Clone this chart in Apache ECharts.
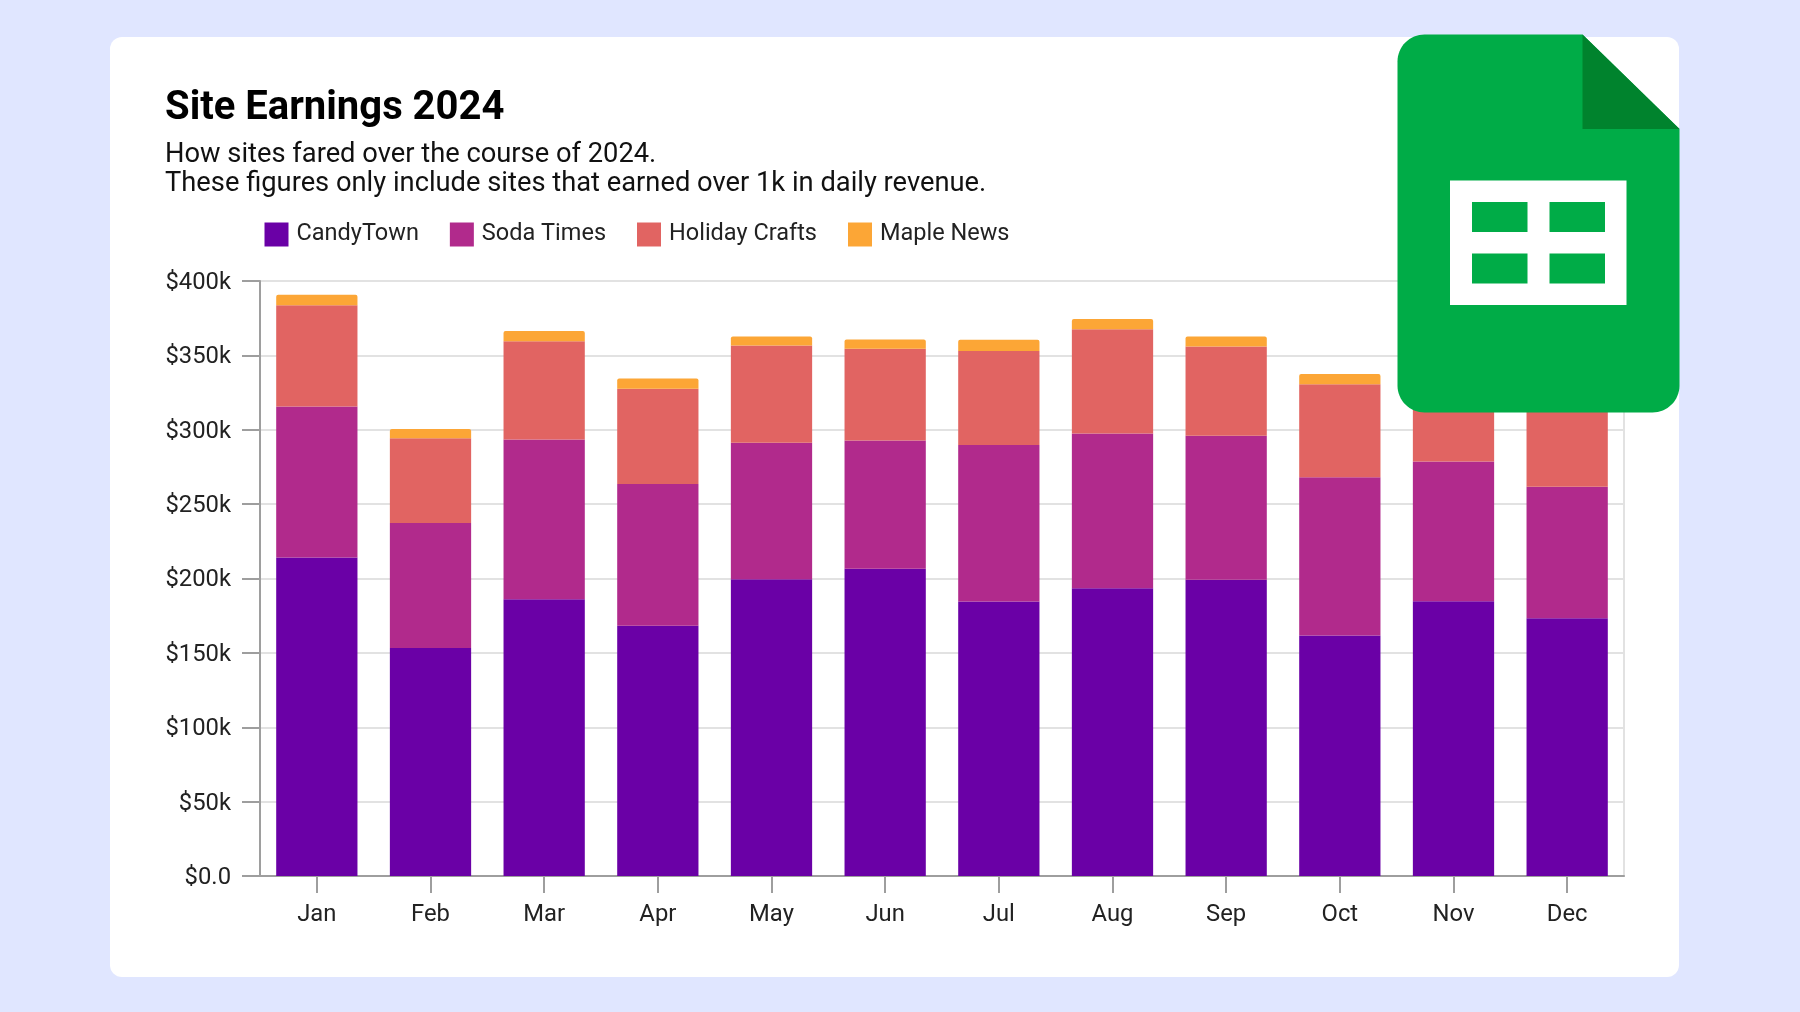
<!DOCTYPE html>
<html><head><meta charset="utf-8">
<style>html,body{margin:0;padding:0;background:#e0e6ff}#c{width:1800px;height:1012px}</style>
<script src="https://cdn.jsdelivr.net/npm/echarts@6/dist/echarts.min.js"></script>
</head><body><div id="c"></div>
<script>
const months = ['Jan','Feb','Mar','Apr','May','Jun','Jul','Aug','Sep','Oct','Nov','Dec'];
const candyTown   = [214.2,153.3,186,168.3,199.5,206.5,184.5,193.4,199.2,161.7,184.7,173.3];
const sodaTimes   = [101.5,84,107.4,95.3,91.8,86.2,105.3,104,96.7,106.4,94,88.4];
const holidayCrafts=[68,57,66.1,64,65.4,61.8,63.2,70.2,60.1,62.5,66,72];
const mapleNews   = [7,6.2,6.9,6.9,6,6.2,7.5,6.9,6.7,6.9,7,7];
const yTickLabels = ['$0.0','$50k','$100k','$150k','$200k','$250k','$300k','$350k','$400k'];
const titleText = 'Site Earnings 2024';
const subText = 'How sites fared over the course of 2024.\nThese figures only include sites that earned over 1k in daily revenue.';
const colors = ['#6a00a6','#b12a8c','#e16462','#fca636'];
const names = ['CandyTown','Soda Times','Holiday Crafts','Maple News'];
const seriesData = [candyTown,sodaTimes,holidayCrafts,mapleNews];
const font = 'Roboto';
const GREEN='#00ac47', DARK='#00832d';
function cornerArc(cx,cy,r,a0){const p=[];for(let i=0;i<=16;i++){const a=(a0+i*90/16)*Math.PI/180;p.push([cx+r*Math.cos(a),cy+r*Math.sin(a)]);}return p;}
const iconOutline=[...cornerArc(1424.5,61.5,27,180),[1582.5,34.5],[1679.5,129],...cornerArc(1652.5,385.5,27,0),...cornerArc(1424.5,385.5,27,90)];
const chart = echarts.init(document.getElementById('c'),null,{renderer:'canvas'});
chart.setOption({
  animation:false,
  backgroundColor:'#e0e6ff',
  color:colors,
  title:{left:160,top:84,text:titleText,subtext:subText,itemGap:12,
    textStyle:{fontFamily:font,fontSize:40,fontWeight:'bold',color:'#000'},
    subtextStyle:{fontFamily:font,fontSize:27.3,color:'#111',lineHeight:29}},
  legend:{left:259.5,top:217.5,itemWidth:24,itemHeight:24,itemGap:31,icon:'rect',
    data:names,textStyle:{fontFamily:font,fontSize:23.5,color:'#222',padding:[0,0,0,3]},selectedMode:false},
  grid:{left:260,right:176,top:281,bottom:136,show:true,borderColor:'#e2e2e2',borderWidth:2},
  xAxis:{type:'category',data:months,
    axisLine:{show:true,lineStyle:{color:'#9e9e9e',width:2}},
    axisTick:{show:true,alignWithLabel:true,length:17,lineStyle:{color:'#9e9e9e',width:2}},
    axisLabel:{fontFamily:font,fontSize:23.8,color:'#222',margin:27,interval:0}},
  yAxis:{type:'value',min:0,max:400,interval:50,
    axisLine:{show:true,lineStyle:{color:'#9e9e9e',width:2}},
    axisTick:{show:true,length:18,lineStyle:{color:'#9e9e9e',width:2}},
    axisLabel:{margin:29,formatter:(v)=>'{a|'+yTickLabels[v/50]+'}',
      rich:{a:{fontFamily:font,fontSize:23.8,color:'#222',padding:[4,0,0,0]}}},
    splitLine:{lineStyle:{color:'#e2e2e2',width:2}}},
  series:names.map((n,i)=>({name:n,type:'bar',stack:'t',data:seriesData[i],barCategoryGap:'28.5%',
    itemStyle:{color:colors[i],borderRadius:i===3?[2,2,0,0]:0}})),
  graphic:[
    {type:'rect',z:-10,silent:true,shape:{x:110,y:37,width:1569,height:940,r:12},style:{fill:'#fff'}},
    {type:'polygon',z:100,silent:true,shape:{points:iconOutline},style:{fill:GREEN}},
    {type:'polygon',z:101,silent:true,shape:{points:[[1582.5,34.5],[1679.5,129],[1582.5,129]]},style:{fill:DARK}},
    {type:'rect',z:101,silent:true,shape:{x:1450,y:180.5,width:176.5,height:124.5},style:{fill:'#fff'}},
    {type:'rect',z:102,silent:true,shape:{x:1472,y:202,width:55.5,height:30},style:{fill:GREEN}},
    {type:'rect',z:102,silent:true,shape:{x:1549.5,y:202,width:55.5,height:30},style:{fill:GREEN}},
    {type:'rect',z:102,silent:true,shape:{x:1472,y:253.5,width:55.5,height:30},style:{fill:GREEN}},
    {type:'rect',z:102,silent:true,shape:{x:1549.5,y:253.5,width:55.5,height:30},style:{fill:GREEN}}
  ]
});
</script></body></html>
